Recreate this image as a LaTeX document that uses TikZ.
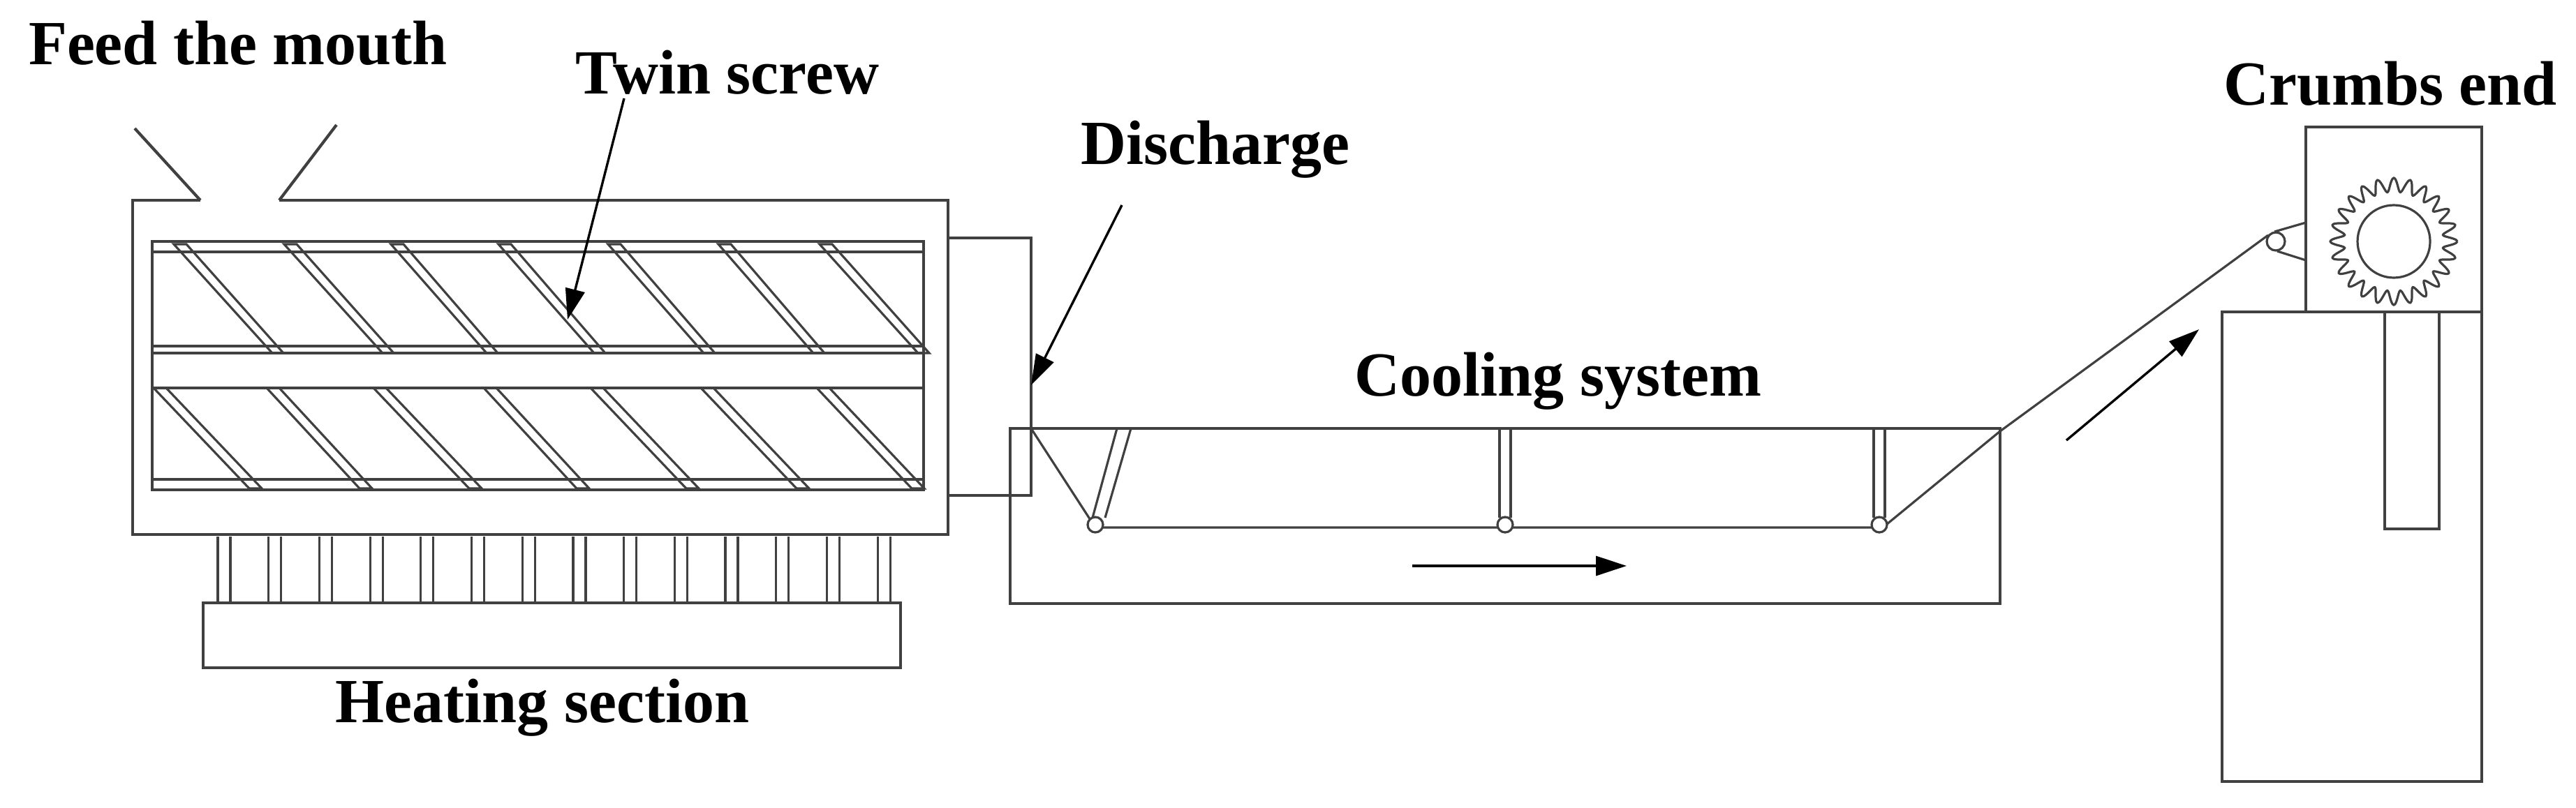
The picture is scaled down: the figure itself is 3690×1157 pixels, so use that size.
\documentclass[tikz,border=0pt]{standalone}
\usepackage{fontspec}
\setmainfont{Liberation Serif}
\usetikzlibrary{arrows.meta}
\begin{document}
\begin{tikzpicture}[x=1pt,y=-1pt,
  ln/.style={line width=4.2pt,draw=black!75},
  thin/.style={line width=3.2pt,draw=black!75},
  lbl/.style={font=\fontsize{90}{96}\selectfont\bfseries,inner sep=0pt},
  arr/.style={line width=3.4pt,-{Triangle[length=44pt,width=28pt]}}]
\useasboundingbox (0,0) rectangle (3690,1157);
% extruder casing
\draw[ln] (287,287) -- (190,287) -- (190,766) -- (1358,766) -- (1358,287) -- (400,287);
\draw[ln] (287,287) -- (193,184);
\draw[ln] (400,287) -- (482,179);
% screw box
\draw[ln] (218,346) rectangle (1323,702);
\draw[thin] (218,361) -- (1323,361);
\draw[thin] (218,496) -- (1323,496);
\draw[thin] (218,506) -- (1323,506);
\draw[thin] (218,556) -- (1323,556);
\draw[thin] (218,687) -- (1323,687);
% flights upper
\foreach \a/\b in {249/390,407/548,560/697,714/851,871/1008,1029/1165,1174/1315}{
  \draw[thin] (\a,350) -- (\b,506) -- (\b+16,506) -- (\a+18,350) -- cycle;}
% flights lower
\foreach \a/\b in {220/357,382/515,535/672,693/826,846/983,1004/1141,1170/1306}{
  \draw[thin] (\a,556) -- (\b,700) -- (\b+18,700) -- (\a+18,556);}
% heating pins
\foreach \i in {0,...,13}{
  \draw[thin] ({312+\i*72.7},769) -- ({312+\i*72.7},864);
  \draw[thin] ({330+\i*72.7},769) -- ({330+\i*72.7},864);}
\draw[ln] (291,864) rectangle (1290,957);
% discharge connector
\draw[ln] (1358,341) -- (1477,341) -- (1477,710) -- (1358,710);
% cooling trough
\draw[ln] (1447,614) rectangle (2865,865);
\coordinate (r1) at (1569,752);
\coordinate (r2) at (2156,752);
\coordinate (r3) at (2692,752);
\draw[thin] (1477,614) -- (1569,756) -- (2697,756) -- (2865,618);
\draw[thin] (1600,614) -- (1565,742) (1620,614) -- (1583,742);
\draw[thin] (2148,614) -- (2148,742) (2164,614) -- (2164,742);
\draw[thin] (2684,614) -- (2684,742) (2700,614) -- (2700,742);
\foreach \c in {r1,r2,r3} \draw[thin,fill=white] (\c) circle (11);
\coordinate (fa) at (2023,811);
\coordinate (fb) at (2330,811);
\draw[arr] (fa) -- (fb);
% conveyor to crumb unit
\coordinate (pul) at (3260,346);
\draw[thin] (2865,618) -- (3249,337);
\draw[thin] (3258,332) -- (3303,319) (3262,360) -- (3303,373);
\draw[thin,fill=white] (pul) circle (13);
\coordinate (ua) at (2960,631);
\coordinate (ub) at (3150,472);
\draw[arr] (ua) -- (ub);
% crumb unit
\draw[ln] (3303,447) -- (3303,182) -- (3555,182) -- (3555,1120) -- (3183,1120) -- (3183,447) -- (3555,447);
\draw[ln] (3416,447) -- (3416,758) -- (3494,758) -- (3494,447);
\coordinate (gc) at (3429,346);
\draw[thin] (gc) circle (52);
\draw[thin,smooth] plot[domain=0:360,samples=241,variable=\t] ({3429+(81+10*cos(24*\t))*cos(\t)},{346+(81+10*cos(24*\t))*sin(\t)});
% labels
\node[lbl] (feed) at (341,62) {Feed the mouth};
\node[lbl] (twin) at (1042,104) {Twin screw};
\node[lbl] (dis) at (1741,214) {Discharge};
\node[lbl] (cool) at (2232,546) {Cooling system};
\node[lbl] (crumb) at (3424,120) {Crumbs end};
\node[lbl] (heat) at (777,1014) {Heating section};
\coordinate (ts) at (894,141);
\coordinate (tw) at (813,458);
\coordinate (ds) at (1607,294);
\coordinate (dt) at (1477,552);
\draw[arr] (ts) -- (tw);
\draw[arr] (ds) -- (dt);
\end{tikzpicture}
\end{document}
